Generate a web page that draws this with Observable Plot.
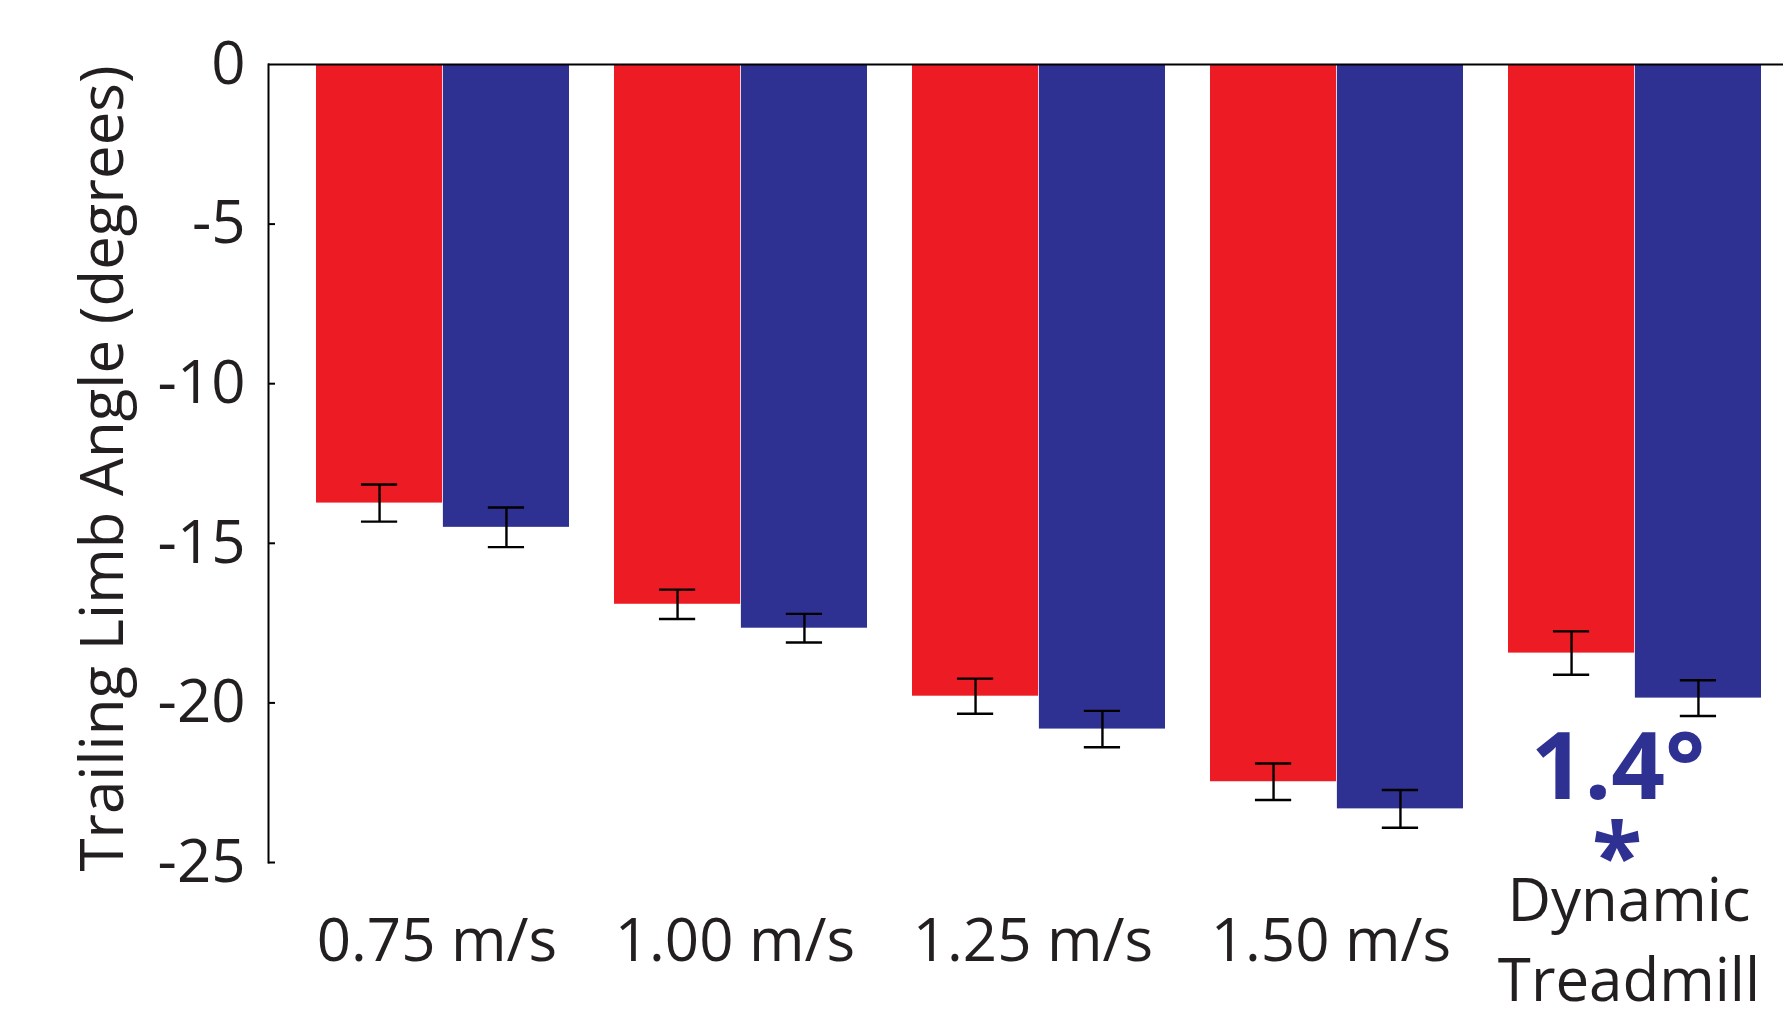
<!DOCTYPE html>
<html><head><meta charset="utf-8">
<script src="https://cdn.jsdelivr.net/npm/d3@7"></script>
<script src="https://cdn.jsdelivr.net/npm/@observablehq/plot@0.6"></script>
<style>html,body{margin:0;padding:0;background:#fff;} #chart svg{display:block}</style>
</head><body><div id="chart"></div>
<script>
// ---- data ----
const categories = ["0.75 m/s", "1.00 m/s", "1.25 m/s", "1.50 m/s", "Dynamic\nTreadmill"];
const seriesNames = ["Condition A", "Condition B"];
const valuesA = [-13.74, -16.91, -19.79, -22.47, -18.44];
const errorsA = [0.58, 0.46, 0.55, 0.57, 0.68];
const valuesB = [-14.50, -17.66, -20.82, -23.32, -19.85];
const errorsB = [0.62, 0.45, 0.57, 0.59, 0.56];
const yTicks = [0, -5, -10, -15, -20, -25];
const yLabel = "Trailing Limb Angle (degrees)";
const annotationCategory = ["Dynamic\nTreadmill"];
const annotationValue = ["1.4°"];
const annotationMark = ["*"];

// ---- layout / style ----
const W = 1785, H = 1025;
const mL = 268, mT = 64, mB = 163, mR = 2;
const xRange = [315, 1763];
const padInner = 0.15;
const red = "#ED1C24", blue = "#2E3192", ink = "#231F20";
const font = "'Open Sans', sans-serif";
const band = d3.scaleBand(categories, xRange).paddingInner(padInner).paddingOuter(0);
const half = band.bandwidth() / 2;
const cap = 37;
const tickLen = 7;
const frameWidth = W - mL - mR;

const rows = (vals, errs, s) => categories.map((c, i) => ({category: c, series: seriesNames[s], value: vals[i], error: errs[i]}));
const rowsA = rows(valuesA, errorsA, 0);
const rowsB = rows(valuesB, errorsB, 1);

function errorMarks(data, side) {
  const off = side < 0 ? -half / 2 : half / 2;
  const inL = side < 0 ? half / 2 - cap / 2 : half + half / 2 - cap / 2;
  const inR = side < 0 ? half + half / 2 - cap / 2 : half / 2 - cap / 2;
  const st = {stroke: "#000", strokeWidth: 2.4};
  return [
    Plot.ruleX(data, {x: "category", y1: d => d.value - d.error, y2: d => d.value + d.error, dx: off, ...st}),
    Plot.tickY(data, {x: "category", y: d => d.value - d.error, insetLeft: inL, insetRight: inR, ...st}),
    Plot.tickY(data, {x: "category", y: d => d.value + d.error, insetLeft: inL, insetRight: inR, ...st})
  ];
}

const chart = Plot.plot({
  width: W, height: H,
  marginLeft: mL, marginTop: mT, marginBottom: mB, marginRight: mR,
  style: {fontFamily: font, color: ink, background: "#fff"},
  x: {domain: categories, range: xRange, paddingInner: padInner, paddingOuter: 0, axis: null},
  y: {domain: [-25, 0], axis: null},
  marks: [
    Plot.barY(rowsA, {x: "category", y1: 0, y2: "value", fill: red, insetRight: half}),
    Plot.barY(rowsB, {x: "category", y1: 0, y2: "value", fill: blue, insetLeft: half}),
    ...errorMarks(rowsA, -1),
    ...errorMarks(rowsB, 1),
    Plot.frame({anchor: "left", stroke: "#000", strokeWidth: 2}),
    Plot.ruleY([0], {stroke: "#000", strokeWidth: 2}),
    Plot.tickY(yTicks.slice(1), {y: d => d, insetRight: frameWidth - tickLen, stroke: "#000", strokeWidth: 2}),
    Plot.axisY(yTicks, {tickSize: 0, tickPadding: 23, fontSize: 60, fill: ink, tickFormat: d => String(d), label: null}),
    Plot.text([yLabel], {frameAnchor: "left", rotate: -90, dx: -165, dy: 5, fontSize: 60, fill: ink, textAnchor: "middle", lineAnchor: "middle"}),
    Plot.text(categories, {x: d => d, text: d => d, frameAnchor: "bottom", lineAnchor: "middle", dy: 73, dx: -6, fontSize: 60, lineHeight: 1.33, fill: ink}),
    Plot.text(annotationValue, {x: (d, i) => annotationCategory[i], text: d => d, frameAnchor: "bottom", lineAnchor: "middle", dy: -94, dx: -17, fontSize: 94, fontWeight: 700, fill: blue}),
    Plot.text(annotationMark, {x: (d, i) => annotationCategory[i], text: d => d, frameAnchor: "bottom", lineAnchor: "middle", dy: -3, dx: -18, fontSize: 92, fontWeight: 700, fill: blue})
  ]
});
document.getElementById("chart").appendChild(chart);
</script>
</body></html>
